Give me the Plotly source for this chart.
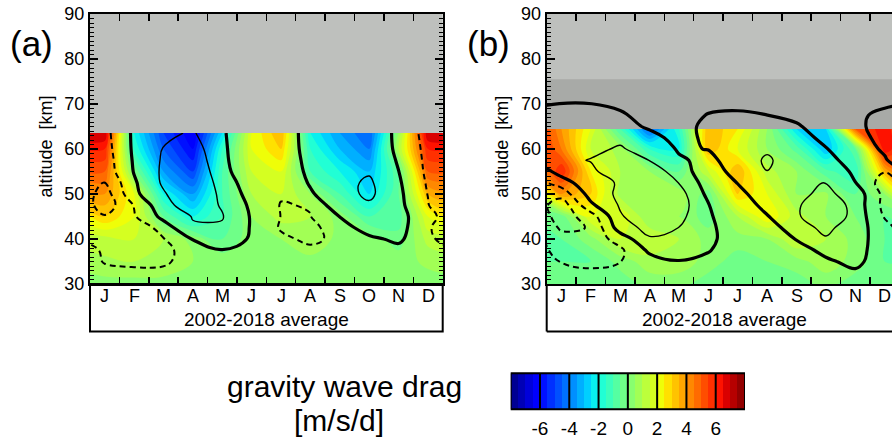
import numpy as np
import plotly.graph_objects as go

# ---------------- data ----------------
months = ["J", "F", "M", "A", "M", "J", "J", "A", "S", "O", "N", "D"]
cbar_ticks = [-6, -4, -2, 0, 2, 4, 6]
cbar_cells = [-7.75, -7.25, -6.75, -6.25, -5.75, -5.25, -4.75, -4.25,
              -3.75, -3.25, -2.75, -2.25, -1.75, -1.25, -0.75, -0.25,
              0.25, 0.75, 1.25, 1.75, 2.25, 2.75, 3.25, 3.75,
              4.25, 4.75, 5.25, 5.75, 6.25, 6.75, 7.25, 7.75]

# panel (a) gravity wave drag colours [m/s/d], rows top -> bottom, columns = mid-month Jan..Dec
alt_a_color = [63.55, 60, 55, 50, 45, 40, 35, 30]
gwd_a = [
    [7.0, -2.0, -5.0, -6.5, -2.5, 2.0, 3.5, -2.0, -3.5, -4.5, 0.5, 7.0],
    [6.0, -1.5, -4.5, -6.0, -1.5, 2.0, 3.0, -1.5, -3.0, -4.0, 1.0, 6.0],
    [5.0, 0.0, -3.5, -5.0, -1.0, 1.5, 2.0, -1.0, -2.0, -3.0, -0.5, 5.0],
    [4.0, 2.0, -2.0, -3.5, -1.0, 1.0, 1.5, 0.5, -1.0, -2.5, -0.5, 3.5],
    [3.0, 2.0, -0.5, -2.0, -1.0, 0.5, 1.2, 1.0, 0.3, -1.0, -0.8, 2.0],
    [1.3, 1.5, 1.0, 0.3, -0.5, 0.3, 0.5, 1.0, 0.3, 0.3, -0.3, 1.2],
    [0.9, 1.0, 0.9, 0.5, 0.3, 0.3, 0.3, 0.3, 0.3, 0.3, 0.3, 0.6],
    [0.3, 0.3, 0.3, 0.3, 0.3, 0.3, 0.3, 0.3, 0.3, 0.3, 0.3, 0.3],
]

# panel (a) contoured field (thick = 0, thin = +1, dashed = -1 / -2)
alt_a_lines = [63.55, 60, 57.5, 55, 52.5, 50, 47.5, 45, 42.5, 40, 37.5, 35, 32.5, 30]
wind_a = [
    [-1.3, 0.18, 0.8, 1.1, 0.12, -0.8, -0.6, 0.42, 0.6, 0.7, -0.22, -1.38],
    [-1.4, 0.16, 1.04, 1.5, 0.15, -0.68, -0.55, 0.34, 0.6, 0.75, -0.19, -1.27],
    [-1.5, 0.11, 1.12, 1.8, 0.12, -0.43, -0.5, 0.235, 0.6, 0.8, -0.09, -1.23],
    [-1.6, 0.05, 1.17, 2.0, 0.28, -0.65, -0.6, 0.19, 0.7, 0.9, 0.01, -1.19],
    [-2.05, -0.13, 1.15, 2.1, 0.53, -0.53, -0.7, 0.08, 0.7, 1.15, 0.12, -1.11],
    [-2.5, -0.22, 0.89, 1.9, 0.775, -0.4, -0.9, -0.1, 0.6, 1.2, 0.2, -1.03],
    [-2.6, -0.95, 0.7, 1.5, 0.925, -0.19, -1.05, -0.95, 0.8, 0.85, 0.25, -0.94],
    [-1.9, -1.1, 0.28, 1.05, 1.05, -0.09, -1.02, -1.02, 0.02, 0.6, 0.3, -0.6],
    [-1.5, -1.9, -0.49, 0.9, 0.9, -0.08, -1.1, -1.3, -0.43, 0.43, 0.4, -0.93],
    [-1.3, -1.5, -1.05, 0.04, 0.5, -0.1, -0.8, -1.2, -0.76, -0.2, 0.2, -0.9],
    [-1.1, -1.4, -1.3, -0.47, -0.03, -0.3, -0.6, -0.8, -0.6, -0.4, -0.3, -0.6],
    [-1.05, -1.2, -1.15, -0.6, -0.4, -0.5, -0.5, -0.5, -0.5, -0.5, -0.5, -0.5],
    [-0.8, -0.8, -0.8, -0.5, -0.5, -0.5, -0.5, -0.5, -0.5, -0.5, -0.5, -0.5],
    [-0.5, -0.5, -0.5, -0.5, -0.5, -0.5, -0.5, -0.5, -0.5, -0.5, -0.5, -0.5],
]

# panel (b) gravity wave drag colours
alt_b_color = [64.45, 60, 55, 50, 45, 40, 35, 30]
gwd_b = [
    [4.0, 2.0, -1.0, -4.5, -1.5, 3.5, 2.5, 0.5, -2.5, -2.5, 5.0, 6.5],
    [4.5, 1.5, 0.8, -1.5, -2.0, 3.5, 2.0, 0.5, -0.7, -3.0, -0.5, 6.5],
    [6.0, 2.5, 1.0, 0.5, -0.5, 1.5, 3.5, 1.2, 0.5, -0.8, -1.5, 3.5],
    [4.0, 3.0, 0.8, 0.6, 0.8, -0.3, 3.0, 2.0, 0.5, 0.6, -0.5, 0.5],
    [-0.3, 2.0, 2.0, 0.5, 0.5, -0.3, 1.0, 2.5, 1.2, 0.5, 0.0, -0.5],
    [-0.5, 0.3, 1.5, 1.5, 1.0, 0.3, 0.3, 0.5, 1.5, 1.0, 0.3, -0.5],
    [-0.5, -0.5, 0.2, 0.8, 0.8, 0.3, -0.3, 0.0, 0.3, 0.8, 0.3, -0.5],
    [-0.4, -0.4, -0.3, 0.2, 0.2, -0.3, -0.4, -0.4, -0.3, 0.2, -0.3, -0.4],
]

# panel (b) contoured field
alt_b_lines = [75, 72.5, 70, 67.5, 65, 62.5, 60, 57.5, 55, 52.5, 50, 47.5, 45,
               42.5, 40, 37.5, 35, 32.5, 30]
wind_b = [
    [-0.8, -0.8, -0.8, -0.8, -0.8, -0.8, -0.8, -0.8, -0.8, -0.8, -0.8, -0.8],
    [-0.6, -0.5, -0.6, -0.7, -0.7, -0.6, -0.6, -0.6, -0.7, -0.7, -0.7, -0.6],
    [0.05, 0.02, -0.3, -0.4, -0.4, -0.3, -0.3, -0.3, -0.4, -0.5, -0.5, -0.3],
    [0.6, 0.6, 0.22, -0.6, -0.5, 0.06, 0.2, 0.01, -0.4, -0.5, -0.4, 0.49],
    [0.9, 0.9, 0.7, -0.26, -0.5, 0.33, 0.6, 0.6, 0.2, -0.85, -0.3, 0.53],
    [0.8, 0.9, 0.9, 0.6, -0.6, 0.34, 0.7, 0.8, 0.6, -0.37, -0.4, 0.35],
    [0.7, 0.9, 1.05, 0.8, -0.12, 0.03, 0.7, 0.9, 0.7, 0.05, -0.5, 0.14],
    [0.9, 1.02, 1.4, 0.98, 0.15, -0.3, 0.6, 1.1, 0.6, 0.3, -0.4, -0.1],
    [0.47, 0.9, 1.3, 1.5, 0.6, -0.73, 0.51, 0.99, 0.7, 0.6, -0.16, -0.95],
    [-0.55, 0.8, 1.05, 1.6, 0.98, -0.48, 0.02, 0.8, 0.9, 1.01, 0.02, -1.5],
    [-1.6, 0.4, 1.2, 1.6, 1.42, -0.25, -0.2, 0.4, 0.8, 1.2, 0.6, -1.3],
    [-2.6, -0.2, 1.1, 1.5, 1.52, 0.03, -0.5, 0.25, 0.85, 1.8, 0.62, -1.3],
    [-2.5, -1.5, 0.9, 1.67, 1.28, 0.17, -0.9, -0.055, 0.86, 1.8, 0.65, -1.1],
    [-2.2, -1.95, 0.5, 1.33, 0.99, 0.3, -0.81, -0.5, 0.54, 1.27, 0.38, -0.5],
    [-1.5, -1.6, -0.6, 0.9, 0.9, 0.3, -0.7, -0.6, 0.05, 0.9, 0.5, -0.64],
    [-1.3, -1.4, -1.19, 0.19, 0.5, 0.05, -0.45, -0.6, -0.5, 0.33, 0.4, -0.6],
    [-1.02, -1.3, -1.02, -0.4, -0.05, -0.2, -0.5, -0.6, -0.5, -0.2, 0.34, -0.79],
    [-0.8, -0.8, -0.7, -0.5, -0.4, -0.4, -0.5, -0.5, -0.4, -0.3, -0.2, -0.5],
    [-0.6, -0.6, -0.6, -0.5, -0.5, -0.5, -0.5, -0.5, -0.5, -0.5, -0.5, -0.6],
]

# ---------------- helpers ----------------
W, H = 892, 439
FONT = "Liberation Sans, Arial, sans-serif"


def px(x):
    return x / W


def py(y):
    return 1 - y / H


def jet(f):
    r = np.interp(f, [0, 0.35, 0.66, 0.89, 1], [0, 0, 1, 1, 0.5])
    g = np.interp(f, [0, 0.125, 0.375, 0.64, 0.91, 1], [0, 0, 1, 1, 0, 0])
    b = np.interp(f, [0, 0.11, 0.34, 0.65, 1], [0.5, 1, 1, 0, 0])
    return "rgb(%d,%d,%d)" % (round(r * 255), round(g * 255), round(b * 255))


n_bands = len(cbar_cells)
cscale = [[k / (n_bands - 1), jet((k + 0.5) / n_bands)] for k in range(n_bands)]

x_mid = [m + 0.5 for m in range(12)]
x_wrap = [x_mid[0] - 1] + x_mid + [x_mid[-1] + 1]


def wrap(rows):
    return [[r[-1]] + list(r) + [r[0]] for r in rows]


def fill_trace(z, alts, xa, ya):
    return go.Contour(
        x=x_wrap, y=alts, z=wrap(z), xaxis=xa, yaxis=ya,
        colorscale=cscale, autocontour=False,
        contours=dict(start=-7.5, end=7.5, size=0.5, coloring="fill", showlines=False),
        line=dict(width=0, smoothing=1.0), showscale=False, hoverinfo="skip")


def line_trace(z, alts, lo, hi, width, dash, xa, ya):
    return go.Contour(
        x=x_wrap, y=alts, z=wrap(z), xaxis=xa, yaxis=ya, autocontour=False,
        contours=dict(start=lo, end=hi, size=1, coloring="none"),
        line=dict(color="black", width=width, dash=dash, smoothing=1.2),
        showscale=False, hoverinfo="skip")


fig = go.Figure()
for z, alts, zl, altl, xa, ya in [
    (gwd_a, alt_a_color, wind_a, alt_a_lines, "x", "y"),
    (gwd_b, alt_b_color, wind_b, alt_b_lines, "x2", "y2"),
]:
    fig.add_trace(fill_trace(z, alts, xa, ya))
    fig.add_trace(line_trace(zl, altl, -2, -1, 2, "6px,4px", xa, ya))
    fig.add_trace(line_trace(zl, altl, 1, 1, 1.4, "solid", xa, ya))
    fig.add_trace(line_trace(zl, altl, 0, 0, 3.2, "solid", xa, ya))

fig.add_trace(go.Heatmap(x=cbar_cells, y=[0], z=[cbar_cells], colorscale=cscale,
                         zmin=cbar_cells[0], zmax=cbar_cells[-1], showscale=False,
                         xaxis="x3", yaxis="y3", hoverinfo="skip"))

LIGHT_GRAY = "rgb(190,192,189)"
DARK_GRAY = "rgb(168,170,167)"

# geometry (pixels)
ax_a = (90, 442.7)
ax_b = (546.7, 892)
top_px, bot_px, box_px = 14, 284, 331.5
month_w = (ax_a[1] - ax_a[0]) / 12
b_range = (ax_b[1] - ax_b[0]) / month_w

tick_font = dict(family=FONT, size=18, color="black")

yax = dict(range=[30, 90], tickvals=[30, 40, 50, 60, 70, 80, 90], ticks="inside", ticklen=8,
           tickwidth=1.5, tickcolor="black", showline=True, linewidth=2, linecolor="black",
           showgrid=False, zeroline=False, tickfont=tick_font, automargin=False,
           minor=dict(dtick=1, ticks="inside", ticklen=4, tickwidth=1, tickcolor="black"))
xax = dict(tickvals=list(range(1, 12)), ticktext=[""] * 11, ticks="inside", ticklen=7,
           tickwidth=1.5, tickcolor="black", showline=True, linewidth=2, linecolor="black",
           showgrid=False, zeroline=False, showticklabels=False, automargin=False)

fig.update_layout(
    template="none",
    width=W, height=H, margin=dict(l=0, r=0, t=0, b=0, pad=0, autoexpand=False),
    paper_bgcolor="white", plot_bgcolor=LIGHT_GRAY, showlegend=False,
    font=dict(family=FONT, color="black"),
    xaxis=dict(xax, domain=[px(ax_a[0]), px(ax_a[1])], range=[0, 12], mirror="ticks", anchor="y"),
    yaxis=dict(yax, domain=[py(bot_px), py(top_px)], mirror="ticks", anchor="x"),
    xaxis2=dict(xax, domain=[px(ax_b[0]), 1.0], range=[0, b_range], mirror="ticks", anchor="y2"),
    yaxis2=dict(yax, domain=[py(bot_px), py(top_px)], mirror=False, anchor="x2"),
    xaxis3=dict(domain=[px(510.7), px(745)], range=[-8, 8], anchor="y3",
                tickvals=cbar_ticks, ticktext=[str(t) for t in cbar_ticks],
                ticks="outside", ticklen=2, tickcolor="rgba(0,0,0,0)",
                tickfont=dict(family=FONT, size=19, color="black"), automargin=False,
                showline=False, showgrid=False, zeroline=False),
    yaxis3=dict(domain=[py(409.3), py(373.3)], range=[-0.5, 0.5], anchor="x3",
                showticklabels=False, ticks="", showgrid=False, zeroline=False,
                automargin=False),
)

shapes = []
# dark gray band of panel (b)
shapes.append(dict(type="rect", xref="x2", yref="y2", x0=0, x1=12, y0=64.45, y1=75.5,
                   fillcolor=DARK_GRAY, line=dict(width=0), layer="below"))
# label boxes under the panels
shapes.append(dict(type="rect", xref="paper", yref="paper", x0=px(ax_a[0]), x1=px(ax_a[1]),
                   y0=py(box_px), y1=py(bot_px), line=dict(color="black", width=2)))
shapes.append(dict(type="line", xref="paper", yref="paper", x0=px(ax_b[0]), x1=px(ax_b[0]),
                   y0=py(box_px), y1=py(bot_px), line=dict(color="black", width=2)))
shapes.append(dict(type="line", xref="paper", yref="paper", x0=px(ax_b[0]), x1=1.0,
                   y0=py(box_px), y1=py(box_px), line=dict(color="black", width=2)))
# colour-bar separators and frame
for t in cbar_ticks:
    shapes.append(dict(type="line", xref="x3", yref="y3 domain", x0=t, x1=t, y0=0, y1=1,
                       line=dict(color="black", width=2)))
shapes.append(dict(type="rect", xref="x3", yref="y3 domain", x0=-8, x1=8, y0=0, y1=1,
                   line=dict(color="black", width=2)))
fig.update_layout(shapes=shapes)


def label(x, y, text, size, xref="paper", angle=0):
    return dict(x=x, y=py(y), xref=xref, yref="paper", text=text, textangle=angle,
                xanchor="center", yanchor="middle", showarrow=False,
                font=dict(family=FONT, size=size, color="black"))


ann = []
for xa in ["x", "x2"]:
    for i, m in enumerate(months):
        if xa == "x2" and x_mid[i] > b_range:
            continue
        ann.append(label(x_mid[i], 296, m, 18, xref=xa))
ann.append(label(px(266.4), 319, "2002-2018 average", 19))
ann.append(label(px(724), 319, "2002-2018 average", 19))
ann.append(label(px(45.5), 147, "altitude  [km]", 18, angle=-90))
ann.append(label(px(501.7), 147, "altitude  [km]", 18, angle=-90))
ann.append(label(px(31), 43, "(a)", 35))
ann.append(label(px(488), 43, "(b)", 35))
ann.append(label(px(344.5), 386, "gravity wave drag", 30))
ann.append(label(px(339), 420, "[m/s/d]", 30))
fig.update_layout(annotations=ann)

fig.write_html("out.html", config={"displayModeBar": False, "staticPlot": True},
               post_script="document.body.style.margin='0';document.body.style.overflow='hidden';")
